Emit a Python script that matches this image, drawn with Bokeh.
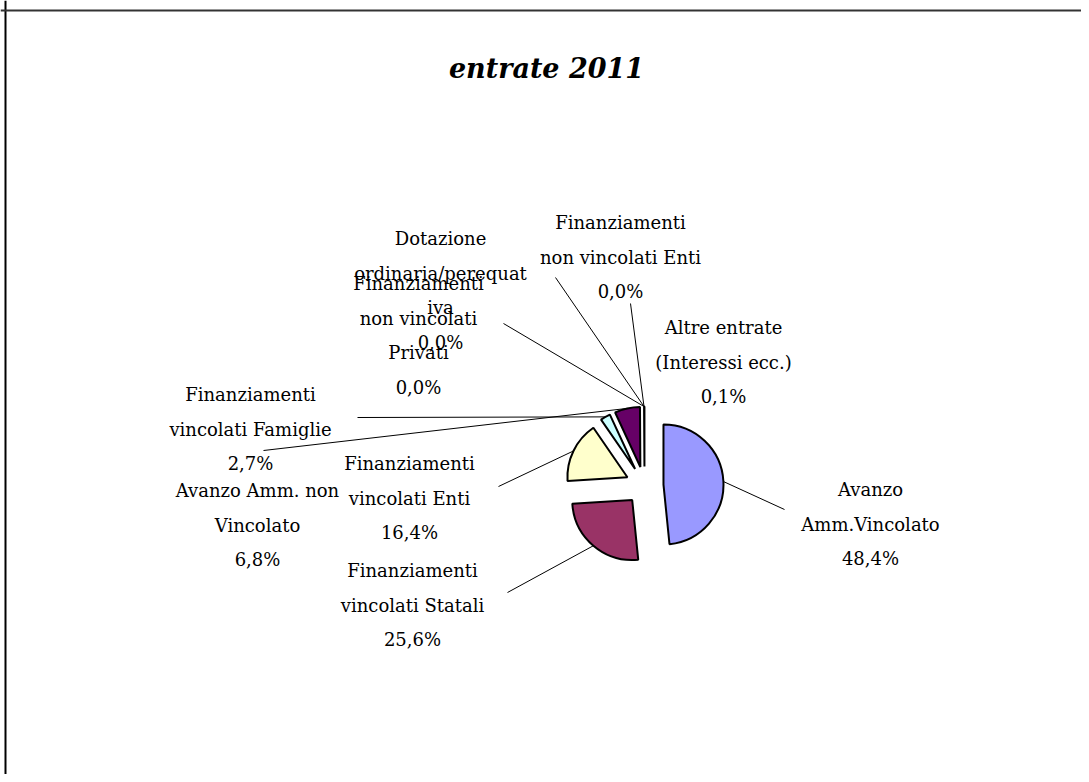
import numpy as np
from bokeh.plotting import figure
from bokeh.models import Range1d, Span, ColumnDataSource
from bokeh.core.properties import value
from bokeh.embed import file_html
from bokeh.resources import INLINE

# ---------------- data ----------------
categories = [
    "Avanzo Amm.Vincolato",
    "Finanziamenti vincolati Statali",
    "Finanziamenti vincolati Enti",
    "Finanziamenti vincolati Famiglie",
    "Avanzo Amm. non Vincolato",
    "Finanziamenti non vincolati Privati",
    "Dotazione ordinaria/perequativa",
    "Finanziamenti non vincolati Enti",
    "Altre entrate (Interessi ecc.)",
]
values = [48.4, 25.6, 16.4, 2.7, 6.8, 0.0, 0.0, 0.0, 0.1]
label_names = [
    ["Avanzo", "Amm.Vincolato"],
    ["Finanziamenti", "vincolati Statali"],
    ["Finanziamenti", "vincolati Enti"],
    ["Finanziamenti", "vincolati Famiglie"],
    ["Avanzo Amm. non", "Vincolato"],
    ["Finanziamenti", "non vincolati", "Privati"],
    ["Dotazione", "ordinaria/perequat", "iva"],
    ["Finanziamenti", "non vincolati Enti"],
    ["Altre entrate", "(Interessi ecc.)"],
]
colors = ["#9999FF", "#993366", "#FFFFCC", "#CCFFFF", "#660066",
          "#FF8080", "#0066CC", "#CCCCFF", "#FFFFFF"]
title_text = "entrate 2011"

# ---------------- layout (pixels, y measured from top) ----------------
W, H = 1081, 774
def sy(y):  # pixel y from top -> data y
    return H - y

center = (644, sy(485))
radius = 60
explode = 19
label_pos = [(870, 489), (412, 570), (409, 463), (250, 394), (257, 490),
             (418, 283), (440, 238), (620, 222), (723, 327)]
leader_end = [(784, 509), (507, 592), (498, 486), (357, 417), (263, 450),
              (503, 323), (555, 277), (630, 303), None]
line_gap = 34.5
serif = "DejaVu Serif"

p = figure(width=W, height=H, output_backend="svg", toolbar_location=None,
           x_range=Range1d(0, W), y_range=Range1d(0, H), min_border=0)
p.axis.visible = False
p.grid.visible = False
p.outline_line_color = None
p.background_fill_color = "white"

# frame (left + top)
p.add_layout(Span(location=5, dimension="height", line_color="black", line_width=2))
p.add_layout(Span(location=sy(10), dimension="width", line_color="#333333", line_width=2))

# ---------------- pie ----------------
vals = np.array(values, dtype=float)
frac = vals / vals.sum()
cum = np.concatenate([[0.0], np.cumsum(frac)]) * 2 * np.pi  # clockwise from north
th_start = cum[:-1]
th_end = cum[1:]
th_mid = (th_start + th_end) / 2

wx = center[0] + explode * np.sin(th_mid)
wy = center[1] + explode * np.cos(th_mid)
mask = vals > 0
src = ColumnDataSource(dict(
    x=wx[mask], y=wy[mask],
    start=(np.pi / 2 - th_start)[mask],
    end=(np.pi / 2 - th_end)[mask],
    color=[c for c, m in zip(colors, mask) if m],
))
p.wedge(x="x", y="y", radius=radius, start_angle="start", end_angle="end",
        direction="clock", fill_color="color", line_color="black",
        line_width=2, source=src)

# ---------------- leader lines ----------------
lx, ly = [], []
for i, end in enumerate(leader_end):
    if end is None:
        continue
    ox = center[0] + (radius + explode) * np.sin(th_mid[i])
    oy = center[1] + (radius + explode) * np.cos(th_mid[i])
    lx.append([ox, end[0]])
    ly.append([oy, sy(end[1])])
p.multi_line(xs=lx, ys=ly, line_color="black", line_width=1)

# ---------------- labels ----------------
tx, ty, tt = [], [], []
for i, names in enumerate(label_names):
    pct = f"{values[i]:.1f}".replace(".", ",") + "%"
    lines = names + [pct]
    x0, y0 = label_pos[i]
    for k, ln in enumerate(lines):
        tx.append(x0)
        ty.append(sy(y0 + k * line_gap))
        tt.append(ln)
p.text(x=tx, y=ty, text=tt, text_font=value(serif), text_font_size="18px",
       text_align="center", text_baseline="middle", text_color="black")

# ---------------- title ----------------
p.text(x=[546], y=[sy(68)], text=[title_text], text_font=value(serif),
       text_font_size="27px", text_font_style="bold italic",
       text_align="center", text_baseline="middle", text_color="black")

open("out.html", "w").write(file_html(p, INLINE))
